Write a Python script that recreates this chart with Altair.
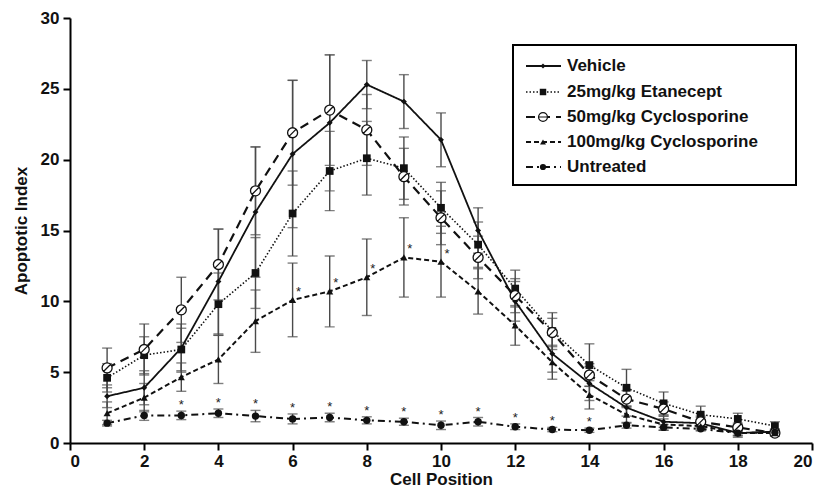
import altair as alt
import pandas as pd

positions = list(range(1, 20))
series_names = ["Vehicle", "25mg/kg Etanecept", "50mg/kg Cyclosporine",
                "100mg/kg Cyclosporine", "Untreated"]

vehicle = [3.3, 3.9, 6.7, 11.4, 16.3, 20.4, 22.6, 25.3, 24.1, 21.4, 15.0, 10.0, 6.3, 4.2, 2.5, 1.5, 1.4, 0.7, 0.8]
vehicle_err = [0.8, 1.2, 1.7, 3.7, 4.6, 5.2, 4.8, 1.7, 1.9, 1.9, 1.6, 1.4, 1.3, 1.2, 0.6, 0.4, 0.4, 0.3, 0.2]

etanercept = [4.6, 6.2, 6.6, 9.8, 12.0, 16.2, 19.2, 20.1, 19.4, 16.6, 14.0, 10.9, 7.9, 5.5, 3.9, 2.8, 2.0, 1.7, 1.2]
etanercept_err = [1.0, 1.3, 1.5, 2.2, 2.5, 3.0, 2.8, 2.6, 2.2, 1.8, 1.6, 1.3, 1.3, 1.5, 1.3, 0.8, 0.6, 0.4, 0.3]

cyclo50 = [5.3, 6.6, 9.4, 12.6, 17.8, 21.9, 23.5, 22.1, 18.8, 15.9, 13.1, 10.4, 7.8, 4.8, 3.1, 2.4, 1.5, 1.1, 0.7]
cyclo50_err = [1.4, 1.8, 2.3, 2.5, 3.1, 3.7, 3.9, 2.5, 2.0, 1.9, 1.5, 1.2, 1.0, 0.8, 0.6, 0.5, 0.4, 0.3, 0.2]

cyclo100 = [2.1, 3.2, 4.65, 5.9, 8.6, 10.1, 10.7, 11.7, 13.1, 12.8, 10.7, 8.3, 5.7, 3.4, 2.0, 1.3, 1.2, 0.7, 0.7]
cyclo100_err = [0.8, 1.0, 1.0, 1.7, 2.2, 2.6, 2.5, 2.7, 2.8, 2.5, 1.6, 1.4, 1.2, 1.0, 0.6, 0.4, 0.3, 0.2, 0.2]

untreated = [1.4, 1.95, 1.95, 2.1, 1.9, 1.7, 1.8, 1.6, 1.5, 1.25, 1.5, 1.15, 0.95, 0.9, 1.25, 1.1, 1.0, 0.7, 0.75]
untreated_err = [0.2, 0.35, 0.3, 0.3, 0.4, 0.35, 0.3, 0.25, 0.25, 0.3, 0.3, 0.2, 0.15, 0.15, 0.2, 0.2, 0.15, 0.15, 0.1]

# positions marked with an asterisk
star_untreated = list(range(3, 15))
star_cyclo100 = [6, 7, 8, 9, 10]

x_ticks = list(range(0, 21, 2))
y_ticks = list(range(0, 31, 5))

values = [vehicle, etanercept, cyclo50, cyclo100, untreated]
errors = [vehicle_err, etanercept_err, cyclo50_err, cyclo100_err, untreated_err]

CIRCLE_SLASH = "M-1,0A1,1,0,1,1,1,0A1,1,0,1,1,-1,0Z M-0.72,0.72L0.72,-0.72"
CIRCLE_BAR = "M-1,0A1,1,0,1,1,1,0A1,1,0,1,1,-1,0Z M-1,0L1,0"

styles = {
    "Vehicle": dict(dash=[1, 0], width=1.8, shape="diamond", size=35, filled=True, legshape="diamond"),
    "25mg/kg Etanecept": dict(dash=[1.5, 2], width=1.6, shape="square", size=60, filled=True, legshape="square"),
    "50mg/kg Cyclosporine": dict(dash=[9, 6], width=2.2, shape=CIRCLE_SLASH, size=100, filled=False, legshape=CIRCLE_BAR),
    "100mg/kg Cyclosporine": dict(dash=[5, 3], width=2.0, shape="triangle-up", size=50, filled=True, legshape="triangle-up"),
    "Untreated": dict(dash=[7, 4, 2, 4], width=2.0, shape="circle", size=55, filled=True, legshape="circle"),
}

frames = []
for name, vals, errs in zip(series_names, values, errors):
    frames.append(pd.DataFrame({
        "pos": positions,
        "val": vals,
        "lo": [v - e for v, e in zip(vals, errs)],
        "hi": [v + e for v, e in zip(vals, errs)],
        "series": name,
    }))
df = pd.concat(frames, ignore_index=True)

xscale = alt.Scale(domain=[0, 20], nice=False)
yscale = alt.Scale(domain=[0, 30], nice=False)
X = alt.X("pos:Q", scale=xscale, title="Cell Position",
          axis=alt.Axis(values=x_ticks, tickSize=7, labelPadding=3, titlePadding=2))
Y = alt.Y("val:Q", scale=yscale, title="Apoptotic Index",
          axis=alt.Axis(values=y_ticks, tickSize=7, labelPadding=4, titlePadding=10))

base = alt.Chart(df)
err_rule = base.mark_rule(color="#4a4a4a", strokeWidth=1.4).encode(
    x=X, y=alt.Y("lo:Q", scale=yscale), y2="hi:Q")
cap_lo = base.mark_tick(color="#4a4a4a", orient="horizontal", size=10, thickness=1.4).encode(
    x="pos:Q", y="lo:Q")
cap_hi = base.mark_tick(color="#4a4a4a", orient="horizontal", size=10, thickness=1.4).encode(
    x="pos:Q", y="hi:Q")

layers = [err_rule, cap_lo, cap_hi]
for name in series_names:
    st = styles[name]
    sub = alt.Chart(df[df.series == name])
    layers.append(sub.mark_line(color="#111", strokeWidth=st["width"], strokeDash=st["dash"]).encode(x=X, y=Y))
for name in series_names:
    st = styles[name]
    sub = alt.Chart(df[df.series == name])
    if st["filled"]:
        pt = sub.mark_point(shape=st["shape"], size=st["size"], filled=True, color="#111", opacity=1)
    else:
        pt = sub.mark_point(shape=st["shape"], size=st["size"], filled=False, color="#111",
                            fill="white", fillOpacity=1, strokeWidth=1.3, opacity=1)
    layers.append(pt.encode(x="pos:Q", y="val:Q"))

# asterisks
star_rows = []
for p in star_untreated:
    i = positions.index(p)
    star_rows.append({"pos": p, "val": untreated[i] + untreated_err[i]})
stars_u = alt.Chart(pd.DataFrame(star_rows)).mark_text(
    text="*", fontSize=13, font="Liberation Sans", color="#222", baseline="middle", dy=-6).encode(
    x="pos:Q", y="val:Q")
star_rows2 = []
for p in star_cyclo100:
    i = positions.index(p)
    star_rows2.append({"pos": p, "val": cyclo100[i]})
stars_c = alt.Chart(pd.DataFrame(star_rows2)).mark_text(
    text="*", fontSize=13, font="Liberation Sans", color="#222", baseline="middle", dx=6, dy=-8).encode(
    x="pos:Q", y="val:Q")
layers += [stars_u, stars_c]

# legend box
leg_box = alt.Chart(pd.DataFrame({"k": [0]})).mark_rect(
    fill="white", stroke="black", strokeWidth=2).encode(
    x=alt.value(443), x2=alt.value(726), y=alt.value(27), y2=alt.value(167))
layers.append(leg_box)
row_y = [48, 74, 99, 124, 149]
for name, ry in zip(series_names, row_y):
    st = styles[name]
    ldf = pd.DataFrame({"name": [name]})
    lc = alt.Chart(ldf)
    layers.append(lc.mark_rule(color="#111", strokeWidth=st["width"], strokeDash=st["dash"]).encode(
        x=alt.value(456), x2=alt.value(491), y=alt.value(ry)))
    if st["filled"]:
        lp = lc.mark_point(shape=st["legshape"], size=st["size"] * 0.7, filled=True, color="#111", opacity=1)
    else:
        lp = lc.mark_point(shape=st["legshape"], size=st["size"] * 0.8, filled=False, color="#111",
                           fill="white", fillOpacity=1, strokeWidth=1.2, opacity=1)
    layers.append(lp.encode(x=alt.value(473), y=alt.value(ry)))
    layers.append(lc.mark_text(align="left", baseline="middle", font="Liberation Sans",
                               fontSize=17, fontWeight="bold", color="#111").encode(
        x=alt.value(497), y=alt.value(ry), text="name:N"))

chart = alt.layer(*layers).properties(
    width=742, height=425,
    autosize=alt.AutoSizeParams(type="none"),
    padding={"left": 62, "top": 10, "right": 5, "bottom": 46},
).configure_view(stroke=None).configure_axis(
    grid=False, domainColor="black", domainWidth=2, tickColor="black", tickWidth=2,
    labelFont="Liberation Sans", labelFontSize=17, labelFontWeight="bold", labelColor="#111",
    titleFont="Liberation Sans", titleFontSize=17, titleFontWeight="bold", titleColor="#111",
)

chart.save("out.html", embed_options={"renderer": "svg", "actions": False})
